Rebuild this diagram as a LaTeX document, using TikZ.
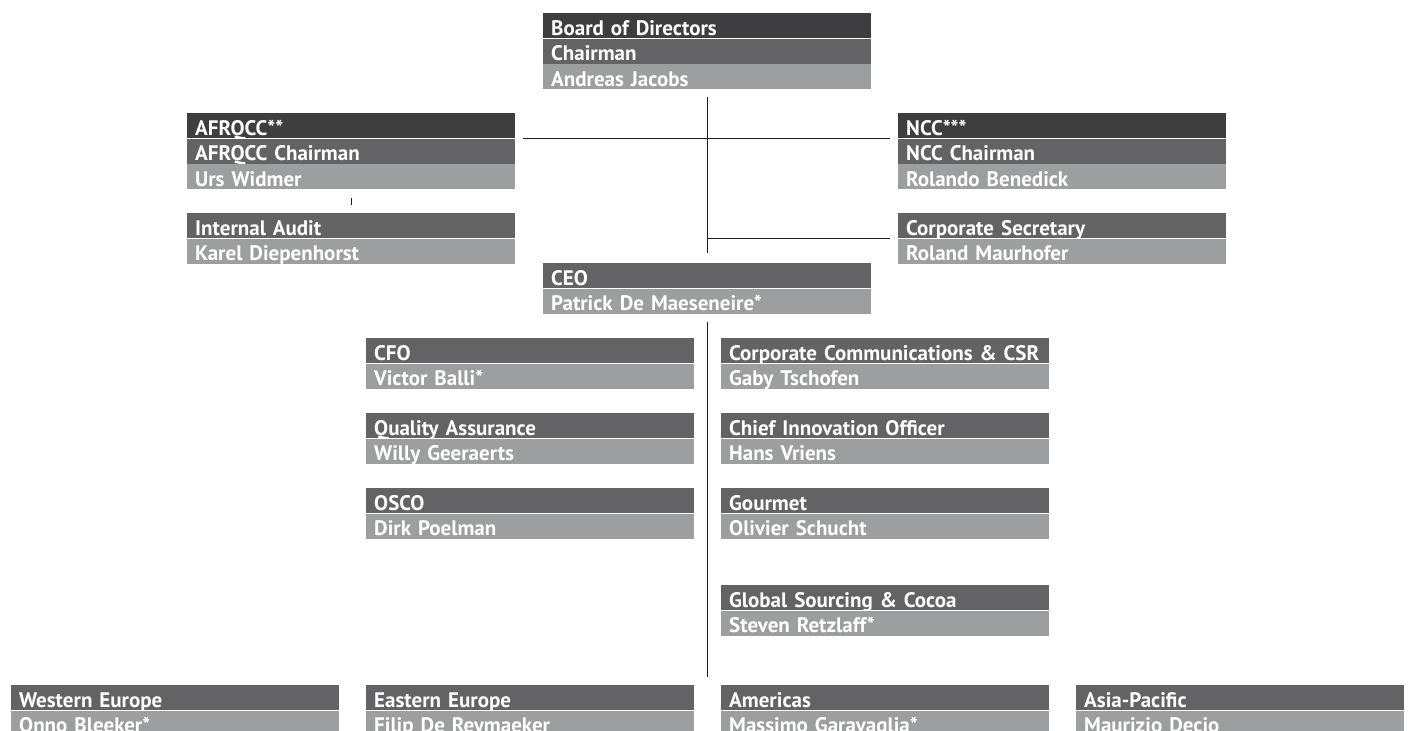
\documentclass[tikz,border=0pt]{standalone}
\usepackage{fontspec}
\usetikzlibrary{positioning}
\newfontfamily\boxfont{PT Sans}
\definecolor{rowdark}{RGB}{62,62,64}
\definecolor{rowmid}{RGB}{99,99,101}
\definecolor{rowlight}{RGB}{157,158,160}
\definecolor{connclr}{RGB}{30,30,30}
\tikzset{
  rowblk/.style={rectangle,draw=none,text=white,anchor=north west,
    text width=312pt,inner xsep=8pt,inner ysep=0pt,minimum height=25pt,
    text height=20pt,text depth=1pt,align=left,
    font=\boxfont\bfseries\fontsize{21}{22}\selectfont},
  hblk/.style={rowblk,fill=rowdark},
  tblk/.style={rowblk,fill=rowmid},
  nblk/.style={rowblk,fill=rowlight},
  conn/.style={line width=1.1pt,color=connclr},
}
\begin{document}
\begin{tikzpicture}[x=1pt,y=1pt]
  \useasboundingbox (0,0) rectangle (1409,-731);
  \clip (0,0) rectangle (1409,-731);
  % Board of Directors
  \node[hblk] (board) at (543,-13) {Board of Directors};
  \node[tblk,below=0pt of board] (boardchair) {Chairman};
  \node[nblk,below=0pt of boardchair] (jacobs) {Andreas Jacobs};
  % AFRQCC
  \node[hblk] (afrqcc) at (187,-113) {AFRQCC**};
  \node[tblk,below=0pt of afrqcc] (afrqccchair) {AFRQCC Chairman};
  \node[nblk,below=0pt of afrqccchair] (widmer) {Urs Widmer};
  % NCC
  \node[hblk] (ncc) at (898,-113) {NCC***};
  \node[tblk,below=0pt of ncc] (nccchair) {NCC Chairman};
  \node[nblk,below=0pt of nccchair] (benedick) {Rolando Benedick};
  % Internal Audit
  \node[tblk] (audit) at (187,-213) {Internal Audit};
  \node[nblk,below=0pt of audit] (diepenhorst) {Karel Diepenhorst};
  % Corporate Secretary
  \node[tblk] (secretary) at (898,-213) {Corporate Secretary};
  \node[nblk,below=0pt of secretary] (maurhofer) {Roland Maurhofer};
  % CEO
  \node[tblk] (ceo) at (543,-263) {CEO};
  \node[nblk,below=0pt of ceo] (demaeseneire) {Patrick De Maeseneire*};
  % left column
  \node[tblk] (cfo) at (366,-338) {CFO};
  \node[nblk,below=0pt of cfo] (balli) {Victor Balli*};
  \node[tblk] (quality) at (366,-413) {Quality Assurance};
  \node[nblk,below=0pt of quality] (geeraerts) {Willy Geeraerts};
  \node[tblk] (osco) at (366,-488) {OSCO};
  \node[nblk,below=0pt of osco] (poelman) {Dirk Poelman};
  % right column
  \node[tblk] (corpcomm) at (721,-338) {Corporate Communications \& CSR};
  \node[nblk,below=0pt of corpcomm] (tschofen) {Gaby Tschofen};
  \node[tblk] (cio) at (721,-413) {Chief Innovation Officer};
  \node[nblk,below=0pt of cio] (vriens) {Hans Vriens};
  \node[tblk] (gourmet) at (721,-488) {Gourmet};
  \node[nblk,below=0pt of gourmet] (schucht) {Olivier Schucht};
  \node[tblk] (sourcing) at (721,-585) {Global Sourcing \& Cocoa};
  \node[nblk,below=0pt of sourcing] (retzlaff) {Steven Retzlaff*};
  % regions
  \node[tblk] (weurope) at (11,-685) {Western Europe};
  \node[nblk,below=0pt of weurope] (bleeker) {Onno Bleeker*};
  \node[tblk] (eeurope) at (366,-685) {Eastern Europe};
  \node[nblk,below=0pt of eeurope] (dereymaeker) {Filip De Reymaeker};
  \node[tblk] (americas) at (721,-685) {Americas};
  \node[nblk,below=0pt of americas] (garavaglia) {Massimo Garavaglia*};
  \node[tblk] (asiapac) at (1076,-685) {Asia-Pacific};
  \node[nblk,below=0pt of asiapac] (decio) {Maurizio Decio};
  % connectors
  \coordinate (tee) at (jacobs.south |- secretary.south west);
  \draw[conn] ([yshift=-8pt]jacobs.south) -- ([yshift=10pt]ceo.north);
  \draw[conn] ([xshift=8pt]afrqcc.south east) -- ([xshift=-8pt]ncc.south west);
  \draw[conn] (tee) -- ([xshift=-8pt]secretary.south west);
  \draw[conn] ([yshift=-9pt]widmer.south) -- ([yshift=8pt]audit.north);
  \draw[conn] ([yshift=-8pt]demaeseneire.south) -- ([yshift=8pt]demaeseneire.south |- americas.north);
\end{tikzpicture}
\end{document}
